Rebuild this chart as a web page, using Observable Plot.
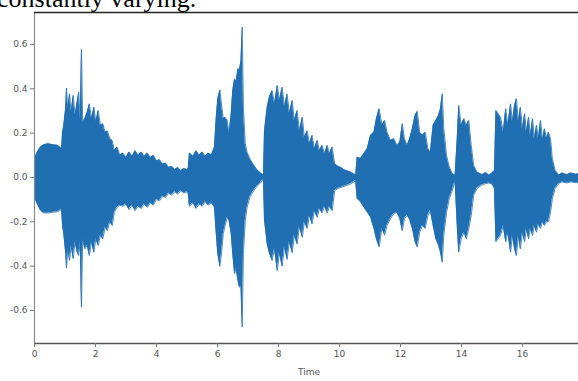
<!DOCTYPE html>
<html>
<head>
<meta charset="utf-8">
<script src="https://cdn.jsdelivr.net/npm/d3@7"></script>
<script src="https://cdn.jsdelivr.net/npm/@observablehq/plot@0.6"></script>
<style>
  html, body { margin: 0; padding: 0; background: #fff; overflow: hidden; }
  #wrap { position: relative; width: 578px; height: 381px; overflow: hidden; }
  #caption { position: absolute; left: -3px; top: -14px; font: 26px "Liberation Serif", "Times New Roman", serif; line-height: 1; color: #000; white-space: nowrap; z-index: 2; }
  #chart { position: absolute; left: 0; top: 0; width: 600px; height: 381px; }
  #chart svg { max-width: none !important; width: 600px; height: 381px; }
</style>
</head>
<body>
<div id="wrap">
  <div id="caption">constantly varying.</div>
  <div id="chart"></div>
</div>
<script>
const captionText = "constantly varying.";
const xLabel = "Time";
const xTicks = [0, 2, 4, 6, 8, 10, 12, 14, 16, 18];
const yTicks = [-0.6, -0.4, -0.2, 0.0, 0.2, 0.4, 0.6];
const xDomain = [0, 18];
const yDomain = [-0.749, 0.744];

// Waveform envelope: time (s), upper and lower amplitude
const time = [
  0.00,0.09,0.20,0.30,0.45,0.60,0.75,0.83,0.89,0.92,0.96,1.02,1.05,1.09,1.15,1.20,1.27,1.33,1.40,1.45,
  1.50,1.54,1.58,1.65,1.73,1.80,1.87,1.95,2.01,2.09,2.16,2.24,2.32,2.39,2.47,2.55,2.62,2.71,2.80,2.90,
  3.00,3.10,3.20,3.30,3.40,3.50,3.60,3.70,3.80,3.90,4.00,4.10,4.20,4.30,4.40,4.50,4.60,4.70,4.80,4.90,
  5.00,5.04,5.08,5.20,5.30,5.40,5.50,5.60,5.70,5.80,5.90,5.96,6.01,6.08,6.13,6.19,6.24,6.32,6.38,6.45,
  6.50,6.56,6.61,6.67,6.72,6.77,6.81,6.85,6.91,6.97,7.06,7.16,7.27,7.38,7.47,7.51,7.54,7.63,7.70,7.79,
  7.87,7.96,8.03,8.12,8.20,8.28,8.36,8.45,8.52,8.61,8.69,8.78,8.85,8.94,9.02,9.10,9.18,9.27,9.34,9.43,
  9.51,9.60,9.67,9.76,9.84,9.95,10.05,10.15,10.25,10.35,10.45,10.53,10.58,10.69,10.80,10.91,11.02,11.13,11.21,11.30,
  11.39,11.48,11.56,11.67,11.78,11.89,11.98,12.06,12.13,12.22,12.30,12.39,12.48,12.55,12.63,12.72,12.81,12.90,12.98,13.07,
  13.16,13.25,13.31,13.37,13.42,13.51,13.60,13.70,13.79,13.86,13.91,13.99,14.08,14.16,14.24,14.32,14.40,14.51,14.68,14.80,
  14.90,15.00,15.08,15.13,15.20,15.28,15.37,15.45,15.52,15.61,15.67,15.74,15.80,15.87,15.93,16.00,16.07,16.13,16.20,16.26,
  16.33,16.39,16.46,16.52,16.59,16.66,16.72,16.79,16.85,16.92,16.98,17.07,17.19,17.30,17.45,17.60,17.75,17.90
];
const upper = [
  0.085,0.114,0.137,0.147,0.152,0.147,0.145,0.137,0.130,0.204,0.235,0.310,0.403,0.310,0.377,0.295,0.370,0.280,0.340,0.385,
  0.265,0.577,0.250,0.265,0.295,0.332,0.265,0.317,0.250,0.302,0.235,0.242,0.204,0.210,0.175,0.167,0.122,0.137,0.100,0.110,
  0.090,0.115,0.095,0.120,0.100,0.115,0.095,0.110,0.090,0.100,0.075,0.080,0.060,0.065,0.045,0.050,0.035,0.045,0.030,0.040,
  0.035,0.040,0.110,0.095,0.120,0.100,0.115,0.095,0.110,0.100,0.137,0.272,0.355,0.395,0.332,0.265,0.272,0.257,0.197,0.287,
  0.392,0.445,0.430,0.490,0.485,0.528,0.678,0.317,0.152,0.114,0.084,0.062,0.039,0.024,0.014,0.012,0.210,0.317,0.362,0.392,
  0.333,0.415,0.347,0.407,0.317,0.377,0.288,0.347,0.257,0.302,0.210,0.272,0.180,0.210,0.152,0.190,0.130,0.167,0.122,0.144,
  0.107,0.144,0.107,0.137,0.062,0.050,0.045,0.035,0.030,0.025,0.018,0.010,0.092,0.085,0.107,0.130,0.190,0.204,0.265,0.310,
  0.235,0.257,0.204,0.167,0.175,0.144,0.160,0.242,0.175,0.144,0.175,0.220,0.280,0.298,0.204,0.190,0.204,0.130,0.114,0.235,
  0.257,0.280,0.310,0.377,0.220,0.099,0.047,0.017,0.010,0.175,0.325,0.235,0.265,0.235,0.257,0.144,0.054,0.024,0.012,0.022,
  0.010,0.020,0.030,0.302,0.287,0.272,0.204,0.310,0.235,0.332,0.250,0.325,0.355,0.250,0.317,0.220,0.287,0.204,0.272,0.190,
  0.265,0.175,0.235,0.175,0.257,0.170,0.220,0.175,0.204,0.175,0.084,0.032,0.010,0.020,0.012,0.020,0.014,0.018
];
const lower = [
  -0.090,-0.119,-0.149,-0.160,-0.160,-0.157,-0.155,-0.149,-0.145,-0.217,-0.254,-0.337,-0.409,-0.322,-0.374,-0.307,-0.367,-0.290,-0.337,-0.352,
  -0.290,-0.585,-0.277,-0.322,-0.307,-0.352,-0.290,-0.337,-0.277,-0.307,-0.262,-0.277,-0.224,-0.240,-0.200,-0.217,-0.158,-0.134,-0.126,-0.130,
  -0.120,-0.145,-0.125,-0.150,-0.130,-0.140,-0.120,-0.135,-0.115,-0.125,-0.100,-0.105,-0.085,-0.090,-0.070,-0.080,-0.065,-0.075,-0.060,-0.070,
  -0.065,-0.070,-0.130,-0.115,-0.140,-0.120,-0.130,-0.110,-0.125,-0.115,-0.134,-0.254,-0.344,-0.401,-0.344,-0.254,-0.224,-0.179,-0.194,-0.254,
  -0.344,-0.434,-0.410,-0.465,-0.495,-0.490,-0.675,-0.344,-0.194,-0.134,-0.089,-0.066,-0.044,-0.029,-0.014,-0.012,-0.190,-0.300,-0.340,-0.375,
  -0.320,-0.420,-0.340,-0.400,-0.310,-0.370,-0.290,-0.340,-0.260,-0.300,-0.220,-0.270,-0.200,-0.230,-0.170,-0.210,-0.150,-0.180,-0.140,-0.160,
  -0.130,-0.160,-0.130,-0.150,-0.060,-0.050,-0.045,-0.040,-0.035,-0.030,-0.022,-0.015,-0.096,-0.110,-0.134,-0.156,-0.179,-0.230,-0.277,-0.314,
  -0.230,-0.260,-0.217,-0.186,-0.164,-0.158,-0.186,-0.240,-0.186,-0.171,-0.190,-0.230,-0.290,-0.314,-0.247,-0.217,-0.230,-0.171,-0.149,-0.217,
  -0.277,-0.307,-0.337,-0.382,-0.260,-0.158,-0.096,-0.059,-0.015,-0.217,-0.337,-0.277,-0.247,-0.277,-0.230,-0.171,-0.081,-0.050,-0.033,-0.028,
  -0.025,-0.030,-0.050,-0.290,-0.277,-0.262,-0.217,-0.290,-0.247,-0.337,-0.262,-0.322,-0.352,-0.262,-0.322,-0.247,-0.290,-0.230,-0.277,-0.230,
  -0.262,-0.217,-0.247,-0.210,-0.230,-0.200,-0.217,-0.200,-0.200,-0.158,-0.096,-0.050,-0.028,-0.020,-0.025,-0.020,-0.024,-0.020
];

const blue = "#1f6fb2";
const rows = time.map((t, i) => ({t, hi: upper[i], lo: lower[i]}));

document.getElementById("caption").textContent = captionText;

const chart = Plot.plot({
  width: 600,
  height: 381,
  marginLeft: 34,
  marginRight: 17,
  marginTop: 12,
  marginBottom: 38,
  style: {fontFamily: "DejaVu Sans, sans-serif", fontSize: "9px", background: "transparent", color: "#555", maxWidth: "none"},
  x: {domain: xDomain, label: null},
  y: {domain: yDomain, label: null},
  marks: [
    Plot.areaY(rows, {x: "t", y1: "lo", y2: "hi", fill: blue}),
    Plot.line(rows, {x: "t", y: "hi", stroke: blue, strokeWidth: 0.8}),
    Plot.line(rows, {x: "t", y: "lo", stroke: blue, strokeWidth: 0.8}),
    Plot.ruleX([xDomain[0]], {stroke: "#8a8a8a", strokeWidth: 1.2}),
    Plot.ruleY([yDomain[0]], {stroke: "#555", strokeWidth: 1.5}),
    Plot.ruleY([yDomain[1]], {stroke: "#222", strokeWidth: 1.3}),
    Plot.axisX({ticks: xTicks, tickFormat: d => String(d), tickSize: 4, tickPadding: 3, stroke: "#777", fill: "#555", label: null}),
    Plot.axisY({ticks: yTicks, tickFormat: d => d.toFixed(1), tickSize: 4, tickPadding: 3, stroke: "#777", fill: "#555", label: null}),
    Plot.text([xLabel], {frameAnchor: "bottom", dy: 31, text: d => d, fill: "#555", fontSize: 9})
  ]
});
document.getElementById("chart").appendChild(chart);
</script>
</body>
</html>
